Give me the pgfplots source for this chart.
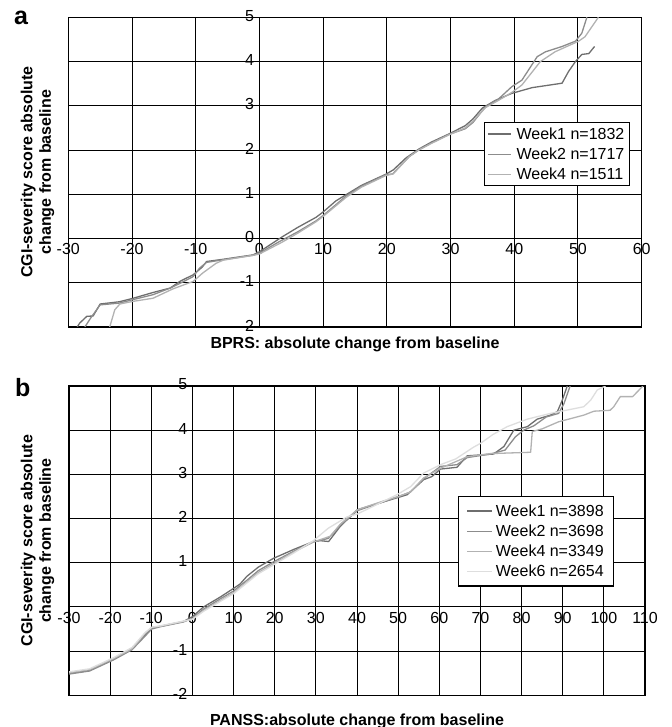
\documentclass[border=0pt]{standalone}
\usepackage{fontspec}
\setmainfont{Liberation Sans}
\usepackage{pgfplots}
\usepackage{pgfplotstable}
\pgfplotsset{compat=1.18}

\definecolor{wA}{HTML}{6E6E6E}
\definecolor{wB}{HTML}{8C8C8C}
\definecolor{wC}{HTML}{B2B2B2}
\definecolor{wD}{HTML}{DEDEDE}

% BPRS panel: CGI-S change against BPRS change
\pgfplotstableread{
x y
-28.6 -2
-28.2 -1.91
-27.1 -1.76
-26.1 -1.75
-25 -1.48
-22 -1.43
-19.8 -1.35
-16.7 -1.22
-14 -1.12
-12.5 -0.97
-10.4 -0.82
-9 -0.65
-8.3 -0.52
-5.7 -0.47
-1 -0.37
0 -0.3
3.6 0.04
6 0.25
8.9 0.48
10 0.6
12 0.85
13.6 0.99
16 1.2
19.8 1.45
21 1.55
23 1.82
25 2.02
27 2.18
29.7 2.36
32.3 2.55
33.5 2.7
35 2.95
37 3.12
39.6 3.28
42.8 3.41
47.5 3.51
48.5 3.77
49.6 4.0
50.6 4.16
51.7 4.18
52.6 4.34
}\bprsA
\pgfplotstableread{
x y
-27.4 -2
-26.5 -1.8
-25 -1.5
-22 -1.46
-19.8 -1.38
-16.7 -1.27
-14 -1.12
-12 -0.98
-10.4 -0.86
-9.4 -0.67
-8.3 -0.54
-5.7 -0.48
-1 -0.38
0 -0.33
3 -0.08
6 0.15
8.9 0.4
10 0.52
13.6 0.96
16 1.18
19.8 1.44
20.9 1.46
23.5 1.85
25 2.0
27 2.16
29.7 2.35
32.3 2.48
33.5 2.62
35.5 2.98
37.5 3.15
39.6 3.43
41.2 3.58
43.6 4.11
44.9 4.22
47.5 4.34
49.6 4.46
50.6 4.64
51.4 5
}\bprsB
\pgfplotstableread{
x y
-23.5 -2
-22.7 -1.61
-21.9 -1.48
-19.8 -1.42
-16.7 -1.35
-13.6 -1.14
-10.4 -0.97
-8.9 -0.78
-6.8 -0.56
-5.7 -0.49
-1 -0.38
0 -0.35
3.6 -0.08
6 0.12
8.9 0.38
10 0.5
13.6 0.93
16 1.16
19.8 1.42
21 1.46
23.5 1.85
25 2.0
27 2.15
29.7 2.34
32.3 2.5
33.5 2.65
35.5 2.96
37.5 3.12
39.6 3.3
41.2 3.47
44.1 4.0
46.4 4.22
50.1 4.46
51.1 4.56
53.2 5
}\bprsC

% PANSS panel: CGI-S change against PANSS change
\pgfplotstableread{
x y
-30 -1.5
-25 -1.44
-23.3 -1.36
-19.2 -1.18
-14.7 -0.93
-11.5 -0.63
-9.9 -0.48
-7.9 -0.44
-2.2 -0.33
0 -0.22
2.7 0.0
6.7 0.22
10 0.42
11.6 0.52
13.2 0.69
16 0.9
19.7 1.1
24.6 1.3
29.4 1.48
31 1.5
33.1 1.48
35.9 1.82
40.1 2.2
46.5 2.38
50.1 2.48
52.2 2.54
56.2 2.88
58.2 2.95
60.3 3.12
64.3 3.16
66.8 3.42
73.2 3.46
75.7 3.63
78.1 4.0
81.4 4.08
83.8 4.25
87 4.34
88.7 4.42
89.9 4.68
91.1 5
}\panssA
\pgfplotstableread{
x y
-30 -1.52
-25 -1.45
-19.2 -1.2
-14.7 -0.97
-11.5 -0.66
-9.9 -0.5
-7.9 -0.45
-2.2 -0.34
0 -0.26
2.7 -0.05
6.7 0.18
10 0.36
13.2 0.6
16 0.82
19.7 1.02
24.6 1.26
29.4 1.47
33 1.55
36 1.85
40.1 2.18
46.5 2.38
50.1 2.5
53 2.6
56.2 2.9
60.3 3.18
64.3 3.22
66.8 3.38
72.4 3.46
76 3.55
78.5 3.85
80.5 4.0
83 4.1
86 4.3
89 4.38
90.3 4.6
91.8 5
}\panssB
\pgfplotstableread{
x y
-30 -1.49
-25 -1.42
-19.2 -1.17
-14.7 -0.95
-11.5 -0.6
-9.9 -0.46
-7.9 -0.44
-2.2 -0.33
0 -0.27
2.7 -0.08
6.7 0.14
10 0.32
13.2 0.56
16 0.78
19.7 0.98
24.6 1.24
29.4 1.47
33.5 1.6
36 1.88
40.1 2.2
46.5 2.4
50.1 2.5
53 2.6
56.2 2.92
60.3 3.14
66.8 3.4
72.4 3.47
82.2 3.5
82.6 3.97
85 4.03
89 4.19
95.1 4.34
97.6 4.43
101.5 4.45
102.4 4.53
104 4.76
107 4.76
109.5 5
}\panssC
\pgfplotstableread{
x y
-30 -1.47
-25 -1.4
-19.2 -1.15
-14.7 -0.92
-11.5 -0.58
-9.9 -0.46
-7.9 -0.43
-2.2 -0.32
0 -0.28
2.7 -0.1
6.7 0.12
10 0.3
13.2 0.54
16 0.75
19.7 0.95
24.6 1.22
29.4 1.5
33 1.78
37.6 2.04
40 2.1
44 2.28
49.7 2.54
53 2.72
56.2 3.03
60.3 3.22
64 3.35
68.4 3.62
70 3.7
73 3.9
76.5 4.08
81.4 4.25
87 4.38
95.1 4.53
96.8 4.68
98.4 4.91
100.4 5
}\panssD

\pgfplotsset{
  cgi/.style={
    scale only axis,
    anchor=south west,
    ymin=-2, ymax=5, ytick={-2,-1,...,5},
    grid=major,
    grid style={black, line width=1pt},
    axis line style={black, line width=1.3pt},
    major tick length=0pt,
    /pgf/number format/assume math mode=true,
    tick label style={font=\fontsize{16}{19}\selectfont},
    xticklabel style={anchor=north, inner sep=0pt},
    yticklabel style={anchor=east, inner sep=0pt, yshift=1.5pt},
    every axis y label/.style={rotate=90, anchor=center, align=center,
      font=\bfseries\fontsize{16}{18.5}\selectfont},
    every axis x label/.style={at={(axis description cs:0.5,0)}, anchor=north,
      inner sep=0pt, font=\bfseries\fontsize{16}{19}\selectfont},
    ylabel={CGI-severity score absolute\\change from baseline},
    legend cell align=left,
    legend image code/.code={\draw[#1] (0pt,0pt) -- (23pt,0pt);},
  },
  curve/.style={line width=1.3pt, line join=round, #1},
}

\begin{document}
\begin{tikzpicture}[x=1pt,y=1pt]
\useasboundingbox (0,0) rectangle (671,727);

\begin{axis}[cgi,
  at={(68.3pt,400pt)}, width=573.4pt, height=309.7pt,
  xmin=-30, xmax=60, xtick={-30,-20,...,60},
  xticklabel style={yshift=84pt},
  yticklabel style={xshift=186pt},
  every axis y label/.append style={at={(axis description cs:-0.0537,0.5)}},
  every axis x label/.append style={yshift=-10pt},
  xlabel={BPRS: absolute change from baseline},
  legend style={at={(axis description cs:0.9796,0.662)}, anchor=north east,
    draw=black, line width=1.2pt, fill=white,
    font=\fontsize{16}{19}\selectfont,
    inner xsep=3pt, inner ysep=3pt, row sep=3pt, column sep=3pt,
    nodes={inner sep=2pt}},
]
\addplot[curve=wA] table[x=x,y=y] {\bprsA};
\addplot[curve=wB] table[x=x,y=y] {\bprsB};
\addplot[curve=wC] table[x=x,y=y] {\bprsC};
\legend{Week1 n=1832, Week2 n=1717, Week4 n=1511}
\end{axis}

\begin{axis}[cgi,
  at={(69pt,31.7pt)}, width=576pt, height=309.3pt,
  xmin=-30, xmax=110, xtick={-30,-20,...,110},
  yticklabels={-2,-1,,1,2,3,4,5},
  xticklabel style={yshift=83.4pt},
  yticklabel style={xshift=118.4pt},
  every axis y label/.append style={at={(axis description cs:-0.0547,0.5)}},
  every axis x label/.append style={yshift=-18pt},
  xlabel={PANSS:absolute change from baseline},
  legend style={at={(axis description cs:0.9467,0.6444)}, anchor=north east,
    draw=black, line width=1.2pt, fill=white,
    font=\fontsize{16}{19}\selectfont,
    inner xsep=8pt, inner ysep=6pt, row sep=3pt, column sep=1pt,
    nodes={inner sep=2pt}},
  legend image code/.code={\draw[#1] (0pt,0pt) -- (25pt,0pt);},
]
\addplot[curve=wA] table[x=x,y=y] {\panssA};
\addplot[curve=wB] table[x=x,y=y] {\panssB};
\addplot[curve=wC] table[x=x,y=y] {\panssC};
\addplot[curve=wD] table[x=x,y=y] {\panssD};
\legend{Week1 n=3898, Week2 n=3698, Week4 n=3349, Week6 n=2654}
\end{axis}

\node[anchor=base west, inner sep=0pt, font=\bfseries\fontsize{25}{30}\selectfont] at (14,702) {a};
\node[anchor=base west, inner sep=0pt, font=\bfseries\fontsize{25}{30}\selectfont] at (15,330.3) {b};
\end{tikzpicture}
\end{document}
